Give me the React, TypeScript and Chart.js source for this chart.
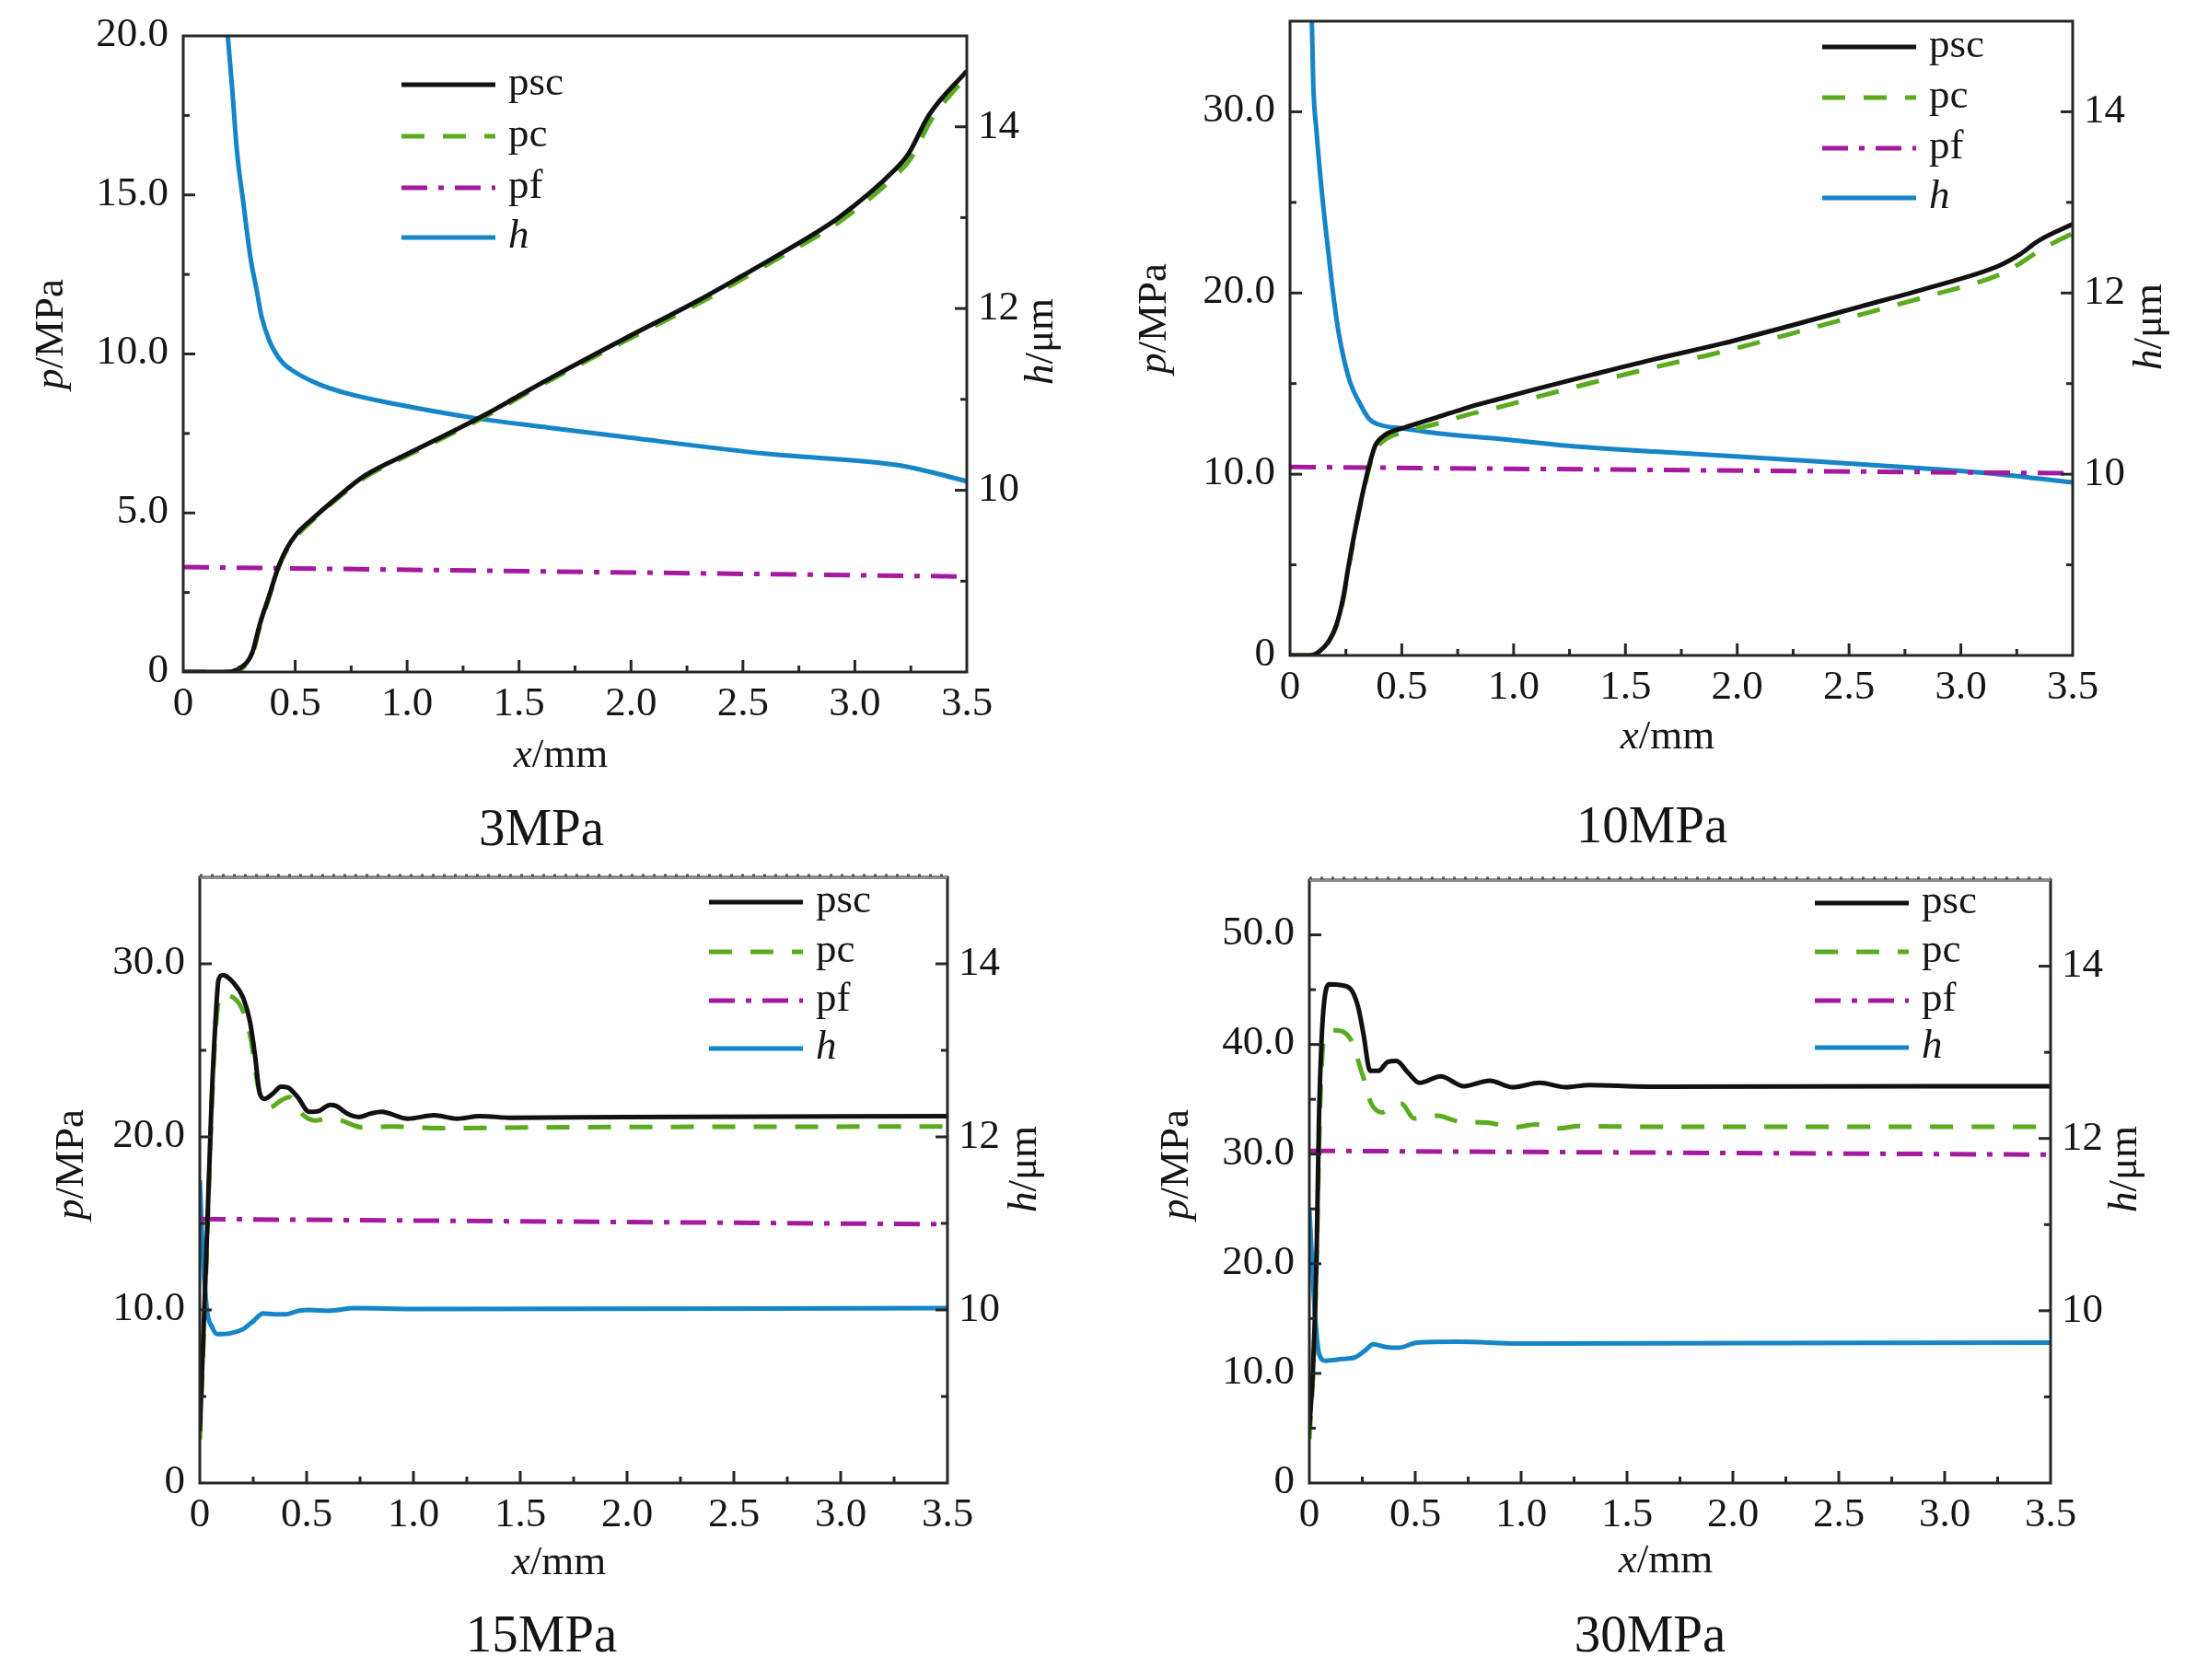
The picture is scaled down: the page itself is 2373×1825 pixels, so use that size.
import React, { useEffect, useRef } from "react";
import { Chart, registerables } from "chart.js";

Chart.register(...registerables);

// ---------------- axis / tick values ----------------
const X_MIN = 0;
const X_MAX = 3.5;
const X_STEP = 0.25;
const X_LABEL_STEP = 0.5;
const H_MIN = 8;
const H_MAX = 15;
const H_STEP = 1;
const H_LABELS = [10, 12, 14];
const P_MAX = [20, 35, 35, 55];
const P_STEP = [2.5, 5, 5, 5];
const P_LABEL_STEP = [5, 10, 10, 10];
const PANEL_TITLES = ["3MPa", "10MPa", "15MPa", "30MPa"];
const SERIES_NAMES = ["psc", "pc", "pf", "h"];

// ---------------- 3 MPa ----------------
const mpa3_psc_x = [0, 0.178, 0.26, 0.308, 0.342, 0.384, 0.425, 0.459, 0.507, 0.575, 0.671, 0.808, 1.014, 1.219, 1.356, 1.493, 1.63, 1.99, 2.3, 2.49, 2.68, 2.93, 3.18, 3.24, 3.33, 3.5];
const mpa3_psc_y = [0, 0, 0.15, 0.6, 1.5, 2.4, 3.3, 3.84, 4.35, 4.8, 5.39, 6.16, 6.9, 7.62, 8.12, 8.66, 9.2, 10.55, 11.68, 12.43, 13.2, 14.3, 15.8, 16.3, 17.5, 18.9];
const mpa3_pc_x = [0, 0.19, 0.26, 0.31, 0.345, 0.386, 0.427, 0.46, 0.51, 0.575, 0.671, 0.808, 1.014, 1.219, 1.356, 1.493, 1.63, 1.99, 2.3, 2.49, 2.68, 2.93, 3.18, 3.25, 3.34, 3.5];
const mpa3_pc_y = [0, 0, 0.1, 0.6, 1.5, 2.4, 3.3, 3.8, 4.3, 4.75, 5.35, 6.1, 6.85, 7.56, 8.06, 8.6, 9.14, 10.47, 11.58, 12.33, 13.1, 14.15, 15.6, 16.15, 17.35, 18.75];
const mpa3_pf_x = [0, 3.5];
const mpa3_pf_y = [3.3, 3.0];
const mpa3_h_x = [0.19, 0.199, 0.219, 0.24, 0.267, 0.301, 0.329, 0.349, 0.384, 0.438, 0.493, 0.603, 0.74, 0.945, 1.288, 1.63, 1.99, 2.61, 3.21, 3.5];
const mpa3_h_y = [15.3, 15.0, 14.41, 13.73, 13.19, 12.55, 12.19, 11.92, 11.65, 11.42, 11.31, 11.17, 11.06, 10.95, 10.8, 10.69, 10.58, 10.4, 10.27, 10.1];

// ---------------- 10 MPa ----------------
const mpa10_psc_x = [0, 0.09, 0.132, 0.174, 0.208, 0.236, 0.264, 0.299, 0.333, 0.361, 0.382, 0.424, 0.52, 0.66, 0.8, 0.95, 1.1, 1.354, 1.63, 1.93, 2.24, 2.55, 2.86, 3.17, 3.26, 3.35, 3.5];
const mpa10_psc_y = [0, 0, 0.23, 0.8, 1.7, 3.07, 5.1, 7.4, 9.4, 10.8, 11.6, 12.16, 12.6, 13.15, 13.7, 14.2, 14.7, 15.5, 16.35, 17.2, 18.2, 19.25, 20.3, 21.5, 22.1, 22.9, 23.8];
const mpa10_pc_x = [0, 0.1, 0.135, 0.176, 0.21, 0.238, 0.266, 0.3, 0.335, 0.362, 0.385, 0.43, 0.52, 0.66, 0.8, 0.95, 1.1, 1.35, 1.63, 1.93, 2.24, 2.55, 2.86, 3.17, 3.26, 3.36, 3.5];
const mpa10_pc_y = [0, 0, 0.2, 0.8, 1.7, 3.07, 5.1, 7.4, 9.4, 10.7, 11.4, 11.95, 12.35, 12.8, 13.3, 13.75, 14.25, 15.05, 15.9, 16.75, 17.75, 18.8, 19.85, 21.0, 21.6, 22.4, 23.3];
const mpa10_pf_x = [0, 3.5];
const mpa10_pf_y = [10.4, 10.05];
const mpa10_h_x = [0.095, 0.097, 0.104, 0.118, 0.139, 0.16, 0.1875, 0.215, 0.243, 0.271, 0.3125, 0.354, 0.396, 0.52, 0.66, 0.9375, 1.215, 1.63, 2.24, 2.86, 3.17, 3.5];
const mpa10_h_y = [15.4, 15.07, 14.3, 13.8, 13.2, 12.7, 12.1, 11.6, 11.25, 11.0, 10.78, 10.61, 10.55, 10.5, 10.45, 10.39, 10.32, 10.25, 10.16, 10.06, 10.0, 9.91];

// ---------------- 15 MPa ----------------
const mpa15_psc_x = [0, 0.03, 0.055, 0.073, 0.088, 0.108, 0.158, 0.204, 0.235, 0.258, 0.281, 0.304, 0.342, 0.38, 0.412, 0.458, 0.512, 0.558, 0.61, 0.635, 0.697, 0.743, 0.8, 0.85, 0.974, 1.097, 1.204, 1.31, 1.466, 2.0, 3.5];
const mpa15_psc_y = [3.0, 13, 22, 26.6, 29.1, 29.35, 28.9, 28.0, 26.65, 24.75, 22.5, 22.2, 22.5, 22.9, 22.85, 22.3, 21.45, 21.5, 21.85, 21.8, 21.3, 21.15, 21.35, 21.45, 21.05, 21.25, 21.05, 21.2, 21.1, 21.15, 21.2];
const mpa15_pc_x = [0, 0.03, 0.055, 0.073, 0.096, 0.15, 0.211, 0.241, 0.273, 0.327, 0.38, 0.419, 0.481, 0.54, 0.6, 0.66, 0.76, 0.9, 1.13, 1.6, 3.5];
const mpa15_pc_y = [2.5, 12.5, 21.5, 26, 28.2, 28.1, 27.0, 25.5, 22.9, 21.7, 22.1, 22.3, 21.3, 20.95, 21.05, 20.95, 20.55, 20.6, 20.5, 20.55, 20.6];
const mpa15_pf_x = [0, 3.5];
const mpa15_pf_y = [15.25, 14.95];
const mpa15_h_x = [0, 0.015, 0.034, 0.058, 0.081, 0.142, 0.204, 0.25, 0.296, 0.35, 0.404, 0.46, 0.512, 0.6, 0.727, 1.0, 3.5];
const mpa15_h_y = [11.5, 10.6, 9.99, 9.8, 9.72, 9.73, 9.78, 9.87, 9.96, 9.95, 9.95, 9.99, 10.0, 9.99, 10.02, 10.01, 10.02];

// ---------------- 30 MPa ----------------
const mpa30_psc_x = [0, 0.019, 0.035, 0.046, 0.058, 0.07, 0.093, 0.155, 0.201, 0.232, 0.256, 0.287, 0.326, 0.37, 0.411, 0.465, 0.52, 0.62, 0.73, 0.852, 0.96, 1.087, 1.21, 1.32, 1.6, 3.5];
const mpa30_psc_y = [5, 11.2, 21.7, 33.7, 40.5, 43.9, 45.5, 45.4, 44.9, 43.3, 40.9, 37.6, 37.6, 38.4, 38.5, 37.45, 36.5, 37.1, 36.2, 36.7, 36.1, 36.5, 36.1, 36.3, 36.15, 36.2];
const mpa30_pc_x = [0, 0.02, 0.035, 0.046, 0.058, 0.07, 0.12, 0.2, 0.24, 0.26, 0.29, 0.345, 0.39, 0.434, 0.496, 0.608, 0.69, 0.85, 0.97, 1.07, 1.18, 1.27, 1.6, 3.5];
const mpa30_pc_y = [4, 11, 21, 31, 38, 40.6, 41.3, 40.3, 37.9, 36.7, 34.7, 33.8, 34.4, 34.6, 33.25, 33.5, 33.05, 32.85, 32.45, 32.7, 32.35, 32.55, 32.5, 32.5];
const mpa30_pf_x = [0, 3.5];
const mpa30_pf_y = [30.3, 29.95];
const mpa30_h_x = [0, 0.027, 0.046, 0.077, 0.155, 0.217, 0.264, 0.302, 0.36, 0.42, 0.51, 0.7, 1.0, 3.5];
const mpa30_h_y = [11.18, 9.95, 9.5, 9.42, 9.44, 9.46, 9.54, 9.61, 9.58, 9.57, 9.63, 9.64, 9.62, 9.63];

// ---------------- styles ----------------
const FONT_FAMILY = "'Liberation Serif', 'Times New Roman', Times, serif";
const TEXT_COLOR = "#151515";
const AXIS_COLOR = "#262626";
const SERIES_STYLE = [
  { color: "#111111", dash: [] as number[] },
  { color: "#5aac1e", dash: [25, 20] },
  { color: "#a5199f", dash: [28, 12, 6, 12] },
  { color: "#1585c8", dash: [] as number[] },
];

type Box = { left: number; top: number; w: number; h: number };
type Plot = { l: number; t: number; r: number; b: number };
type Pt = { x: number; y: number };
type PanelCfg = {
  box: Box;
  plot: Plot;
  legendX: number;
  legendRows: number[];
  yTitle: [number, number];
  hTitle: [number, number];
  xTitle: [number, number];
  sub: [number, number];
  dottedTop: boolean;
  idx: number;
  series: [number[], number[]][];
};

const pts = (xs: number[], ys: number[]): Pt[] => xs.map((x, i) => ({ x, y: ys[i] }));
const isMultiple = (v: number, step: number) => {
  const r = v / step;
  return Math.abs(r - Math.round(r)) < 1e-6;
};
const fmt1 = (v: number) => (Math.abs(v) < 1e-9 ? "0" : v.toFixed(1));

const PANELS: PanelCfg[] = [
  {
    idx: 0,
    box: { left: 0, top: 0, w: 1186, h: 920 },
    plot: { l: 199, t: 39, r: 1050, b: 730 },
    legendX: 436,
    legendRows: [92, 148, 204, 258],
    yTitle: [68, 363],
    hTitle: [1143, 371],
    xTitle: [609, 833],
    sub: [588, 918],
    dottedTop: false,
    series: [[mpa3_psc_x, mpa3_psc_y], [mpa3_pc_x, mpa3_pc_y], [mpa3_pf_x, mpa3_pf_y], [mpa3_h_x, mpa3_h_y]],
  },
  {
    idx: 1,
    box: { left: 1186, top: 0, w: 1187, h: 920 },
    plot: { l: 1401, t: 23, r: 2251, b: 712 },
    legendX: 1979,
    legendRows: [51, 106, 161, 215],
    yTitle: [1266, 346],
    hTitle: [2347, 355],
    xTitle: [1811, 813],
    sub: [1794, 915],
    dottedTop: false,
    series: [[mpa10_psc_x, mpa10_psc_y], [mpa10_pc_x, mpa10_pc_y], [mpa10_pf_x, mpa10_pf_y], [mpa10_h_x, mpa10_h_y]],
  },
  {
    idx: 2,
    box: { left: 0, top: 920, w: 1186, h: 905 },
    plot: { l: 217, t: 953, r: 1029, b: 1611 },
    legendX: 770,
    legendRows: [980, 1034, 1087, 1139],
    yTitle: [90, 1265],
    hTitle: [1125, 1270],
    xTitle: [607, 1710],
    sub: [588, 1794],
    dottedTop: true,
    series: [[mpa15_psc_x, mpa15_psc_y], [mpa15_pc_x, mpa15_pc_y], [mpa15_pf_x, mpa15_pf_y], [mpa15_h_x, mpa15_h_y]],
  },
  {
    idx: 3,
    box: { left: 1186, top: 920, w: 1187, h: 905 },
    plot: { l: 1422, t: 956, r: 2227, b: 1611 },
    legendX: 1971,
    legendRows: [981, 1034, 1087, 1138],
    yTitle: [1290, 1265],
    hTitle: [2320, 1270],
    xTitle: [1809, 1708],
    sub: [1792, 1794],
    dottedTop: true,
    series: [[mpa30_psc_x, mpa30_psc_y], [mpa30_pc_x, mpa30_pc_y], [mpa30_pf_x, mpa30_pf_y], [mpa30_h_x, mpa30_h_y]],
  },
];

const fontStr = (size: number, italic = false) => `${italic ? "italic " : ""}${size}px ${FONT_FAMILY}`;

function drawRich(
  ctx: CanvasRenderingContext2D,
  parts: [string, boolean][],
  x: number,
  y: number,
  size: number
) {
  const widths = parts.map(([t, it]) => {
    ctx.font = fontStr(size, it);
    return ctx.measureText(t).width;
  });
  const total = widths.reduce((a, b) => a + b, 0);
  let cx = x - total / 2;
  ctx.textAlign = "left";
  ctx.textBaseline = "alphabetic";
  parts.forEach(([t, it], i) => {
    ctx.font = fontStr(size, it);
    ctx.fillText(t, cx, y);
    cx += widths[i];
  });
}

function makeDecor(cfg: PanelCfg) {
  return {
    id: "decor",
    afterDraw(chart: any) {
      const { ctx, chartArea: a, scales } = chart;
      const ox = cfg.box.left;
      const oy = cfg.box.top;
      ctx.save();
      ctx.setLineDash([]);
      ctx.lineCap = "butt";

      const seg = (x1: number, y1: number, x2: number, y2: number) => {
        ctx.beginPath();
        ctx.moveTo(x1, y1);
        ctx.lineTo(x2, y2);
        ctx.stroke();
      };
      const MAJOR = 13;
      const MINOR = 7;
      const pls = P_LABEL_STEP[cfg.idx];

      // ticks (inward) and tick labels, taken from the scales' own ticks
      ctx.strokeStyle = AXIS_COLOR;
      ctx.lineWidth = 3;
      ctx.fillStyle = TEXT_COLOR;
      ctx.font = fontStr(45);

      ctx.textAlign = "center";
      ctx.textBaseline = "middle";
      for (const t of scales.x.ticks) {
        const px = scales.x.getPixelForValue(t.value);
        const major = isMultiple(t.value, X_LABEL_STEP);
        if (px > a.left + 2 && px < a.right - 2) seg(px, a.bottom, px, a.bottom - (major ? MAJOR : MINOR));
        if (t.label) ctx.fillText(String(t.label), px, a.bottom + 35);
      }
      ctx.textAlign = "right";
      for (const t of scales.y.ticks) {
        const py = scales.y.getPixelForValue(t.value);
        const major = isMultiple(t.value, pls);
        if (py > a.top + 2 && py < a.bottom - 2) seg(a.left, py, a.left + (major ? MAJOR : MINOR), py);
        if (t.label) ctx.fillText(String(t.label), a.left - 16, py - 1);
      }
      ctx.textAlign = "left";
      for (const t of scales.y1.ticks) {
        const py = scales.y1.getPixelForValue(t.value);
        const major = H_LABELS.includes(t.value);
        if (py > a.top + 2 && py < a.bottom - 2) seg(a.right, py, a.right - (major ? MAJOR : MINOR), py);
        if (t.label) ctx.fillText(String(t.label), a.right + 12, py);
      }

      // frame
      ctx.lineWidth = 3;
      ctx.strokeStyle = AXIS_COLOR;
      ctx.strokeRect(a.left, a.top, a.right - a.left, a.bottom - a.top);
      if (cfg.dottedTop) {
        ctx.strokeStyle = "#8a8a8a";
        ctx.lineWidth = 3;
        seg(a.left, a.top, a.right, a.top);
        ctx.strokeStyle = "#555555";
        ctx.setLineDash([3, 9]);
        seg(a.left, a.top - 2, a.right, a.top - 2);
        ctx.setLineDash([]);
      }

      // legend
      const ds = chart.data.datasets;
      const lx = cfg.legendX - ox;
      ds.forEach((d: any, i: number) => {
        const ry = cfg.legendRows[i] - oy;
        ctx.strokeStyle = d.borderColor;
        ctx.lineWidth = 5;
        ctx.setLineDash(d.borderDash || []);
        seg(lx, ry, lx + 102, ry);
        ctx.setLineDash([]);
        ctx.fillStyle = TEXT_COLOR;
        ctx.textAlign = "left";
        ctx.textBaseline = "alphabetic";
        ctx.font = fontStr(45, d.label === "h");
        ctx.fillText(d.label, lx + 116, ry + 11);
      });

      // axis titles and panel caption
      ctx.fillStyle = TEXT_COLOR;
      drawRich(ctx, [["x", true], ["/mm", false]], cfg.xTitle[0] - ox, cfg.xTitle[1] - oy, 45);
      drawRich(ctx, [[PANEL_TITLES[cfg.idx], false]], cfg.sub[0] - ox, cfg.sub[1] - oy, 57);

      ctx.save();
      ctx.translate(cfg.yTitle[0] - ox, cfg.yTitle[1] - oy);
      ctx.rotate(-Math.PI / 2);
      drawRich(ctx, [["p", true], ["/MPa", false]], 0, 0, 45);
      ctx.restore();

      ctx.save();
      ctx.translate(cfg.hTitle[0] - ox, cfg.hTitle[1] - oy);
      ctx.rotate(-Math.PI / 2);
      drawRich(ctx, [["h", true], ["/\u03bcm", false]], 0, 0, 45);
      ctx.restore();

      ctx.restore();
    },
  };
}

function Panel({ cfg }: { cfg: PanelCfg }) {
  const ref = useRef<HTMLCanvasElement>(null);
  useEffect(() => {
    const canvas = ref.current;
    if (!canvas) return;
    const { box, plot, idx } = cfg;
    const pls = P_LABEL_STEP[idx];
    const datasets = cfg.series.map(([xs, ys], i) => ({
      label: SERIES_NAMES[i],
      data: pts(xs, ys),
      borderColor: SERIES_STYLE[i].color,
      backgroundColor: SERIES_STYLE[i].color,
      borderDash: SERIES_STYLE[i].dash,
      borderWidth: 5,
      pointRadius: 0,
      fill: false,
      cubicInterpolationMode: "monotone" as const,
      yAxisID: i === 3 ? "y1" : "y",
    }));
    const chart = new Chart(canvas, {
      type: "line",
      data: { datasets },
      options: {
        animation: false,
        responsive: false,
        devicePixelRatio: 1,
        events: [],
        layout: { padding: { top: plot.t - box.top, left: 0, right: 0, bottom: 0 } },
        plugins: { legend: { display: false }, tooltip: { enabled: false }, title: { display: false } },
        scales: {
          x: {
            type: "linear",
            position: "bottom",
            min: X_MIN,
            max: X_MAX,
            ticks: {
              display: false,
              stepSize: X_STEP,
              autoSkip: false,
              callback: (v: any) => (isMultiple(Number(v), X_LABEL_STEP) ? fmt1(Number(v)) : ""),
            },
            grid: { display: false, drawTicks: false },
            border: { display: false },
            afterFit: (s: any) => {
              s.height = box.top + box.h - plot.b;
            },
          },
          y: {
            type: "linear",
            position: "left",
            min: 0,
            max: P_MAX[idx],
            ticks: {
              display: false,
              stepSize: P_STEP[idx],
              autoSkip: false,
              callback: (v: any) => (isMultiple(Number(v), pls) ? fmt1(Number(v)) : ""),
            },
            grid: { display: false, drawTicks: false },
            border: { display: false },
            afterFit: (s: any) => {
              s.width = plot.l - box.left;
            },
          },
          y1: {
            type: "linear",
            position: "right",
            min: H_MIN,
            max: H_MAX,
            ticks: {
              display: false,
              stepSize: H_STEP,
              autoSkip: false,
              callback: (v: any) => (H_LABELS.includes(Number(v)) ? String(v) : ""),
            },
            grid: { display: false, drawTicks: false },
            border: { display: false },
            afterFit: (s: any) => {
              s.width = box.left + box.w - plot.r;
            },
          },
        },
      } as any,
      plugins: [makeDecor(cfg)],
    });
    return () => chart.destroy();
  }, [cfg]);
  return (
    <canvas
      ref={ref}
      width={cfg.box.w}
      height={cfg.box.h}
      style={{
        position: "absolute",
        left: cfg.box.left,
        top: cfg.box.top,
        width: cfg.box.w,
        height: cfg.box.h,
      }}
    />
  );
}

export default function App() {
  return (
    <div
      style={{
        position: "fixed",
        left: 0,
        top: 0,
        width: 2373,
        height: 1825,
        background: "#ffffff",
        overflow: "hidden",
      }}
    >
      {PANELS.map((p) => (
        <Panel key={p.idx} cfg={p} />
      ))}
    </div>
  );
}
